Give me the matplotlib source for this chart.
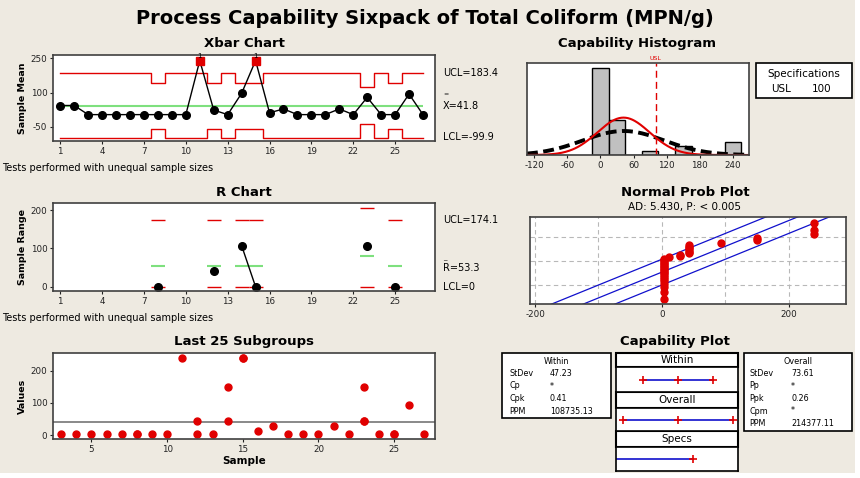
import numpy as np
import matplotlib.pyplot as plt
from matplotlib.patches import Rectangle
from statistics import NormalDist

W, H = 860, 478
BG = '#EEEAE1'
RED = '#E00000'
GREEN = '#7EE07E'
BLUE = '#1010CC'
FRAME = '#404040'

# subgroup data (MPN/g)
subgroup = list(range(1, 28))
sample_values = [[43], [43], [3], [3], [3], [3], [3], [3, 3], [3], [3], [240],
                 [43, 3], [3], [150, 43], [240, 240], [11], [28], [3], [3], [3],
                 [28], [3], [150, 43, 43], [3], [3, 3], [93], [3]]

xbarbar = 41.8
sd_within = 47.23
sd_overall = 73.61
usl = 100
ci_half = 50          # half width of the blue band on the prob plot
d2 = {2: 1.128, 3: 1.693}
D4 = {2: 3.267, 3: 2.574}

within_rows = [('StDev', '47.23'), ('Cp', '*'), ('Cpk', '0.41'), ('PPM', '108735.13')]
overall_rows = [('StDev', '73.61'), ('Pp', '*'), ('Ppk', '0.26'), ('Cpm', '*'),
                ('PPM', '214377.11')]

plt.rcParams['font.family'] = 'DejaVu Sans'
plt.rcParams['axes.unicode_minus'] = False
fig = plt.figure(figsize=(W / 100, H / 100), dpi=100, facecolor='white')

# overlay in pixel coords for titles, boxes and side labels
ov = fig.add_axes([0, 0, 1, 1], zorder=0)
ov.set_xlim(0, W)
ov.set_ylim(H, 0)
ov.axis('off')
ov.add_patch(Rectangle((0, 0), 855, 473, facecolor=BG, edgecolor='none'))


def ax_px(l, t, r, b):
    a = fig.add_axes([l / W, 1 - b / H, (r - l) / W, (b - t) / H], zorder=2)
    a.set_facecolor('white')
    for s in a.spines.values():
        s.set_color(FRAME)
        s.set_linewidth(1.2)
    a.tick_params(direction='out', length=2.5, width=0.8, labelsize=6.3, pad=1.5,
                  colors='#222222')
    return a


def txt(x, y, s, size=7, **kw):
    ov.text(x, y, s, fontsize=size, va='center', **kw)


txt(425, 18, 'Process Capability Sixpack of Total Coliform (MPN/g)', size=14,
    ha='center', fontweight='bold')

n = np.array([len(v) for v in sample_values])
xbar = np.array([np.mean(v) for v in sample_values])
x = np.array(subgroup)

# ---- Xbar chart
ax = ax_px(53, 55, 435, 141)
ucl = xbarbar + 3 * sd_within / np.sqrt(n)
lcl = xbarbar - 3 * sd_within / np.sqrt(n)
ax.step(x, ucl, where='mid', color=RED, lw=1)
ax.step(x, lcl, where='mid', color=RED, lw=1)
ax.hlines(xbarbar, x[0], x[-1], color=GREEN, lw=1.5)
ax.plot(x, xbar, color='black', lw=1, marker='o', ms=5.5)
out = xbar > ucl
ax.plot(x[out], xbar[out], 's', color=RED, ms=5.5)
for xi, yi in zip(x[out], xbar[out]):
    ax.text(xi, yi + 6, '1', fontsize=5, ha='center', va='bottom', clip_on=False)
ax.set_xlim(0.48, 27.86)
ax.set_ylim(-112.7, 264.5)
ax.set_xticks(range(1, 26, 3))
ax.set_yticks([-50, 100, 250])
ax.set_ylabel('Sample Mean', fontsize=6.8, fontweight='bold', labelpad=3)
txt(244, 43, 'Xbar Chart', size=9.5, ha='center', fontweight='bold')
txt(443, 73, 'UCL=183.4')
txt(443, 95, '=', size=4.5)
txt(443, 106, 'X=41.8')
txt(443, 137, 'LCL=-99.9')
txt(2, 168, 'Tests performed with unequal sample sizes', size=7)

# ---- R chart
ar = ax_px(53, 203, 435, 291)
rng = np.array([max(v) - min(v) if len(v) > 1 else np.nan for v in sample_values])
for xi, ni in zip(x, n):
    if ni > 1:
        rb = d2[ni] * sd_within
        ar.hlines(D4[ni] * rb, xi - 0.5, xi + 0.5, color=RED, lw=1)
        ar.hlines(rb, xi - 0.5, xi + 0.5, color=GREEN, lw=1.5)
        ar.hlines(0, xi - 0.5, xi + 0.5, color=RED, lw=1)
ar.plot(x, rng, color='black', lw=1, marker='o', ms=5.5)
ar.set_xlim(0.48, 27.86)
ar.set_ylim(-11.2, 218.3)
ar.set_xticks(range(1, 26, 3))
ar.set_yticks([0, 100, 200])
ar.set_ylabel('Sample Range', fontsize=6.8, fontweight='bold', labelpad=3)
txt(244, 193, 'R Chart', size=9.5, ha='center', fontweight='bold')
txt(443, 220, 'UCL=174.1')
txt(443, 258, '_', size=5)
txt(443, 268, 'R=53.3')
txt(443, 287, 'LCL=0')
txt(2, 318, 'Tests performed with unequal sample sizes', size=7)

# ---- Last 25 subgroups
al = ax_px(53, 353, 435, 439)
for xi, v in zip(x[2:], sample_values[2:]):
    al.plot([xi] * len(v), v, 'o', color=RED, ms=5)
al.axhline(xbarbar, color='#808080', lw=1.3, zorder=1)
al.set_xlim(2.46, 27.7)
al.set_ylim(-12.4, 254.6)
al.set_xticks([5, 10, 15, 20, 25])
al.set_yticks([0, 100, 200])
al.set_ylabel('Values', fontsize=6.8, fontweight='bold', labelpad=3)
al.set_xlabel('Sample', fontsize=7.5, fontweight='bold', labelpad=2)
txt(244, 341, 'Last 25 Subgroups', size=9.5, ha='center', fontweight='bold')

# ---- Capability histogram
allv = np.concatenate([np.array(v, float) for v in sample_values])
N = len(allv)
bw = 30
ah = ax_px(527, 63, 749, 155)
ah.hist(allv, bins=np.arange(-15, 270, bw), color='#C0C0C0', edgecolor='black', lw=1)
xs = np.linspace(-133, 269, 300)
nd_w = NormalDist(xbarbar, sd_within)
nd_o = NormalDist(xbarbar, sd_overall)
ah.plot(xs, [nd_o.pdf(t) * N * bw for t in xs], color='black', lw=2.8, dashes=(2.8, 1.4))
ah.plot(xs, [nd_w.pdf(t) * N * bw for t in xs], color=RED, lw=1.5)
ah.axvline(usl, color=RED, lw=1, dashes=(5, 3))
ah.text(usl, 21.6, 'USL', color=RED, fontsize=4.5, ha='center', va='bottom')
ah.set_xlim(-133, 269)
ah.set_ylim(0, 21.2)
ah.set_yticks([])
ah.set_xticks([-120, -60, 0, 60, 120, 180, 240])
txt(637, 43, 'Capability Histogram', size=9.5, ha='center', fontweight='bold')
ov.add_patch(Rectangle((755.5, 63), 96, 34.5, facecolor='white', edgecolor='black', lw=1.2))
txt(803.5, 73.5, 'Specifications', size=7.5, ha='center')
txt(771, 89, 'USL', size=7.5)
txt(812, 89, '100', size=7.5)

# ---- Normal probability plot
ap = ax_px(530, 217.3, 845.7, 304.3)
srt = np.sort(allv)
zpos = [NormalDist().inv_cdf((i + 0.7) / (N + 0.4)) for i in range(N)]
mu, sd = allv.mean(), allv.std(ddof=1)
zl = np.array([NormalDist().inv_cdf(0.01), NormalDist().inv_cdf(0.99)])
for g in [-200, -100, 0, 100, 200]:
    ap.axvline(g, color='#B8B8B8', lw=0.8, dashes=(4, 3), zorder=0)
for p in [0.1, 0.5, 0.9]:
    ap.axhline(NormalDist().inv_cdf(p), color='#B8B8B8', lw=0.8, dashes=(4, 3), zorder=0)
zz = np.linspace(zl[0] - 0.1, zl[1] + 0.1, 50)
for off in (-ci_half, 0, ci_half):
    ap.plot(mu + sd * zz + off, zz, color=BLUE, lw=0.9)
ap.plot(srt, zpos, 'o', color=RED, ms=5)
ap.set_xlim(-208, 290)
ap.set_ylim(zl[0], zl[1])
ap.set_yticks([])
ap.set_xticks([-200, 0, 200])
txt(685, 193, 'Normal Prob Plot', size=9.5, ha='center', fontweight='bold')
txt(685, 207, 'AD: 5.430, P: < 0.005', size=7.5, ha='center')

# ---- Capability plot
txt(675, 341, 'Capability Plot', size=9.5, ha='center', fontweight='bold')
ov.add_patch(Rectangle((502.3, 352.7), 108.4, 65.6, facecolor='white',
                       edgecolor='black', lw=1.2))
txt(556.5, 362, 'Within', size=5.8, ha='center')
for (lab, val), yy in zip(within_rows, [373.5, 386, 398.5, 411]):
    txt(509, yy, lab, size=5.8)
    txt(550, yy, val, size=5.8)
ov.add_patch(Rectangle((744, 352.7), 107.7, 78, facecolor='white',
                       edgecolor='black', lw=1.2))
txt(798, 362, 'Overall', size=5.8, ha='center')
for (lab, val), yy in zip(overall_rows, [373.5, 386, 398.5, 411, 423.5]):
    txt(749, yy, lab, size=5.8)
    txt(791, yy, val, size=5.8)

headers = [('Within', 353.3, 367.3, 391.7),
           ('Overall', 391.7, 408.3, 431),
           ('Specs', 431, 446.7, 471)]
for lab, t, m, b in headers:
    ov.add_patch(Rectangle((616, t), 122, m - t, facecolor='white',
                           edgecolor='black', lw=1.5))
    txt(677, (t + m) / 2, lab, size=7.5, ha='center')

cap_x = (-208, 282)
for (lab, t, m, b), sdv in zip(headers, [sd_within, sd_overall, None]):
    ac = ax_px(616, m, 738, b)
    for s in ac.spines.values():
        s.set_color('black')
    ac.set_xticks([])
    ac.set_yticks([])
    ac.set_xlim(*cap_x)
    ac.set_ylim(0, 1)
    if sdv is not None:
        pts = [xbarbar - 3 * sdv, xbarbar, xbarbar + 3 * sdv]
        ac.plot([pts[0], pts[2]], [0.5, 0.5], color=BLUE, lw=1.2)
        ac.plot(pts, [0.5] * 3, '+', color=RED, ms=6, mew=1.2)
    else:
        ac.plot([cap_x[0], usl], [0.5, 0.5], color=BLUE, lw=1.2)
        ac.plot([usl], [0.5], '+', color=RED, ms=6, mew=1.2)

fig.savefig('out.png', dpi=100, facecolor=fig.get_facecolor())
